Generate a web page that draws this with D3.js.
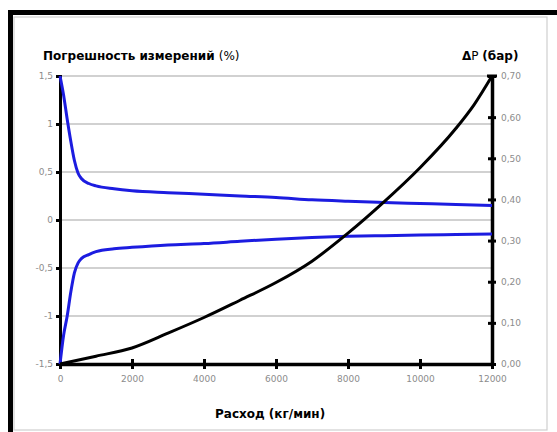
<!DOCTYPE html>
<html>
<head>
<meta charset="utf-8">
<script src="https://cdn.jsdelivr.net/npm/d3@7"></script>
<style>
  html, body { margin: 0; padding: 0; background: #fff; }
  svg { display: block; font-family: "DejaVu Sans", Verdana, sans-serif; }
</style>
</head>
<body>
<div id="chart"></div>
<script>
// Погрешность измерений / перепад давления vs расход
const flowTicks  = [0, 2000, 4000, 6000, 8000, 10000, 12000];
const errTicks   = [1.5, 1, 0.5, 0, -0.5, -1, -1.5];
const errLabels  = ["1,5", "1", "0,5", "0", "-0,5", "-1", "-1,5"];
const dpTicks    = [0, 0.1, 0.2, 0.3, 0.4, 0.5, 0.6, 0.7];
const dpLabels   = ["0,00", "0,10", "0,20", "0,30", "0,40", "0,50", "0,60", "0,70"];

// расход, кг/мин
const flowErr = [0, 100, 200, 300, 400, 500, 600, 800, 1000, 1500, 2000, 3000, 4000, 5000, 6000, 7000, 8000, 9000, 10000, 11000, 12000];
// верхняя граница погрешности, %
const errUpper = [1.5, 1.3, 1.05, 0.82, 0.62, 0.49, 0.43, 0.38, 0.355, 0.325, 0.305, 0.285, 0.268, 0.25, 0.235, 0.21, 0.195, 0.183, 0.172, 0.161, 0.152];
// нижняя граница погрешности, %
const errLower = [-1.5, -1.2, -1.0, -0.75, -0.55, -0.45, -0.40, -0.36, -0.33, -0.30, -0.285, -0.26, -0.245, -0.222, -0.20, -0.182, -0.17, -0.163, -0.157, -0.152, -0.147];

const flowDp = [0, 1000, 2000, 3000, 4000, 5000, 6000, 7000, 8000, 9000, 10000, 11000, 11500, 12000];
const dpVals = [0, 0.019, 0.039, 0.075, 0.113, 0.155, 0.198, 0.25, 0.318, 0.394, 0.477, 0.573, 0.63, 0.70];

const W = 557, H = 432;
const margin = { left: 60, right: 65, top: 76, bottom: 68 };

const svg = d3.select("#chart").append("svg")
  .attr("width", W).attr("height", H);

// рамка
svg.append("rect").attr("x", 14).attr("y", 17).attr("width", 533).attr("height", 413)
  .attr("fill", "#fff").attr("stroke", "#cfcfcf").attr("stroke-width", 1.2);
svg.append("line").attr("x1", 8).attr("x2", W).attr("y1", 12.5).attr("y2", 12.5)
  .attr("stroke", "#000").attr("stroke-width", 5);
svg.append("line").attr("x1", 10.5).attr("x2", 10.5).attr("y1", 10).attr("y2", H)
  .attr("stroke", "#000").attr("stroke-width", 5);

const x = d3.scaleLinear().domain([0, 12000]).range([margin.left, W - margin.right]);
const y = d3.scaleLinear().domain([-1.5, 1.5]).range([H - margin.bottom, margin.top]);
const y2 = d3.scaleLinear().domain([0, 0.7]).range([H - margin.bottom, margin.top]);

// сетка
svg.append("g")
  .selectAll("line")
  .data(errTicks.slice(0, -1))
  .join("line")
    .attr("x1", x(0)).attr("x2", x(12000))
    .attr("y1", d => y(d)).attr("y2", d => y(d))
    .attr("stroke", "#c2c2c2").attr("stroke-width", 1.6);

// левая ось
const gl = svg.append("g")
  .attr("transform", `translate(${x(0)},0)`)
  .call(d3.axisLeft(y).tickValues(errTicks).tickSize(4).tickPadding(3)
    .tickFormat((d, i) => errLabels[i]));
gl.select(".domain").attr("stroke-width", 3);
gl.selectAll(".tick line").attr("stroke-width", 3);
gl.selectAll("text").attr("font-size", 9).attr("fill", "#8c8c8c")
  .attr("font-family", "DejaVu Sans");

// нижняя ось
const gb = svg.append("g")
  .attr("transform", `translate(0,${y(-1.5)})`)
  .call(d3.axisBottom(x).tickValues(flowTicks).tickSize(5).tickSizeOuter(0).tickPadding(7)
    .tickFormat(d3.format("d")));
gb.select(".domain").attr("stroke-width", 3.5);
gb.selectAll(".tick line").attr("stroke-width", 3).attr("y1", -5);
gb.selectAll("text").attr("font-size", 9).attr("fill", "#8c8c8c")
  .attr("font-family", "DejaVu Sans");

// правая ось
const gr = svg.append("g")
  .attr("transform", `translate(${x(12000)},0)`)
  .call(d3.axisRight(y2).tickValues(dpTicks).tickSize(4).tickSizeOuter(0).tickPadding(5)
    .tickFormat((d, i) => dpLabels[i]));
gr.select(".domain").attr("stroke-width", 3.5);
gr.selectAll(".tick line").attr("stroke-width", 3).attr("x1", -4);
gr.selectAll("text").attr("font-size", 9).attr("fill", "#8c8c8c")
  .attr("font-family", "DejaVu Sans");
// верхняя засечка правой оси
svg.append("line")
  .attr("x1", x(12000) - 5).attr("x2", x(12000) + 5)
  .attr("y1", y2(0.7)).attr("y2", y2(0.7))
  .attr("stroke", "#000").attr("stroke-width", 3);

// линии
const lineErr = d3.line().curve(d3.curveMonotoneX)
  .x((d, i) => x(flowErr[i])).y(d => y(d));
const lineDp = d3.line().curve(d3.curveMonotoneX)
  .x((d, i) => x(flowDp[i])).y(d => y2(d));

[errUpper, errLower].forEach(s => {
  svg.append("path").datum(s)
    .attr("fill", "none").attr("stroke", "#1c1ce0")
    .attr("stroke-width", 3).attr("stroke-linejoin", "round")
    .attr("d", lineErr);
});
svg.append("path").datum(dpVals)
  .attr("fill", "none").attr("stroke", "#000")
  .attr("stroke-width", 3).attr("stroke-linejoin", "round")
  .attr("d", lineDp);

// подписи
const t1 = svg.append("text").attr("x", 43).attr("y", 60)
  .attr("font-size", 12).attr("fill", "#000");
t1.append("tspan").attr("font-weight", "bold").text("Погрешность измерений ");
t1.append("tspan").text("(%)");

const t2 = svg.append("text").attr("x", 462).attr("y", 60)
  .attr("font-size", 12).attr("fill", "#000");
t2.append("tspan").attr("font-weight", "bold").text("Δ");
t2.append("tspan").text("P ");
t2.append("tspan").attr("font-weight", "bold").text("(бар)");

svg.append("text").attr("x", 215).attr("y", 418)
  .attr("font-size", 12).attr("font-weight", "bold").attr("fill", "#000")
  .text("Расход (кг/мин)");
</script>
</body>
</html>
